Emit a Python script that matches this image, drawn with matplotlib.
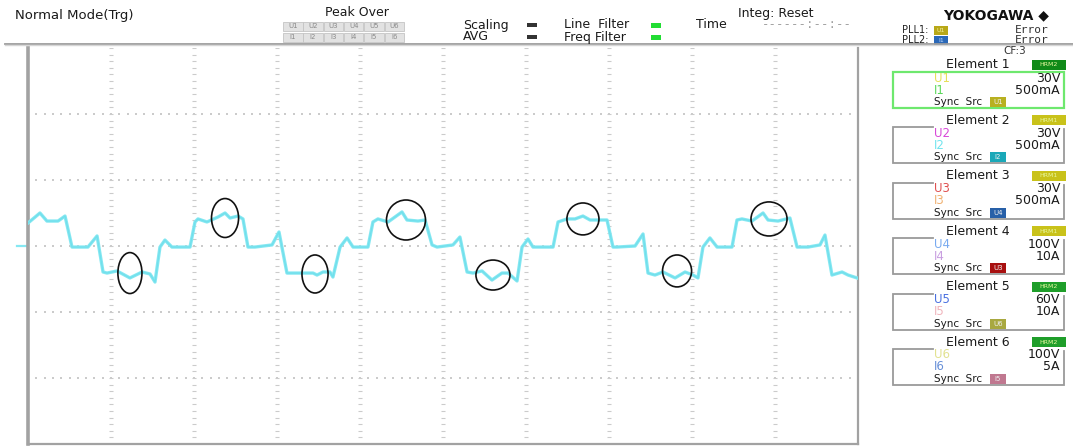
import matplotlib
matplotlib.use("Agg")
import matplotlib.pyplot as plt
from matplotlib.patches import Rectangle, Ellipse
import numpy as np

# ---- waveform of I2 (time in ms, current in A) ----
t_ms = [0.00, 0.72, 1.14, 1.81, 2.23, 2.65, 3.61, 4.16, 4.52, 4.76, 5.36, 6.14,
        6.87, 7.35, 7.65, 7.95, 8.25, 8.67, 9.76, 10.06, 10.24, 10.78, 11.45,
        11.87, 12.17, 12.65, 12.95, 13.25, 13.67, 14.70, 15.12, 15.60, 16.27,
        17.17, 17.41, 17.77, 18.19, 18.37, 18.80, 19.22, 19.58, 20.48, 20.78,
        21.08, 21.69, 22.53, 22.83, 23.49, 23.92, 24.34, 24.64, 25.60, 26.02,
        26.45, 26.81, 27.35, 27.95, 28.55, 28.92, 29.46, 29.76, 30.12, 30.42,
        31.63, 31.93, 32.47, 32.95, 33.43, 33.86, 34.34, 34.88, 35.24, 35.48,
        36.57, 37.05, 37.35, 37.77, 38.25, 38.98, 39.58, 40.06, 40.36, 40.66,
        41.08, 41.51, 42.41, 42.71, 43.01, 43.61, 44.28, 44.58, 45.18, 45.90,
        46.33, 46.99, 47.71, 48.01, 48.43, 49.04, 49.40, 49.94]
i_amp = [0.174, 0.250, 0.189, 0.189, 0.227, -0.008, -0.008, 0.076, -0.197, -0.205,
         -0.189, -0.242, -0.197, -0.212, -0.273, -0.008, 0.045, -0.008, -0.008,
         0.182, 0.205, 0.182, 0.220, 0.250, 0.212, 0.227, 0.205, -0.008, -0.008,
         0.008, 0.106, -0.205, -0.205, -0.205, -0.220, -0.197, -0.197, -0.235,
         -0.008, 0.061, -0.008, -0.008, 0.182, 0.205, 0.182, 0.258, 0.197, 0.189,
         0.197, 0.008, -0.008, 0.008, 0.068, -0.197, -0.205, -0.189, -0.258,
         -0.205, -0.205, -0.265, -0.008, 0.053, -0.008, -0.008, 0.182, 0.205,
         0.205, 0.227, 0.197, 0.197, 0.197, -0.008, -0.008, 0.000, 0.091, -0.205,
         -0.220, -0.197, -0.242, -0.197, -0.220, -0.242, -0.008, 0.061, -0.008,
         -0.008, 0.197, 0.205, 0.189, 0.250, 0.197, 0.189, 0.212, -0.008, -0.008,
         0.008, 0.083, -0.220, -0.197, -0.220, -0.242]

# hand-drawn markings around the flat-top ripples (centre t, centre I, width, height)
mark_t = [6.14, 11.87, 17.29, 22.77, 28.01, 33.43, 39.10, 44.64]
mark_i = [-0.205, 0.212, -0.212, 0.197, -0.220, 0.205, -0.189, 0.205]
mark_w = [1.45, 1.63, 1.57, 2.35, 2.05, 1.93, 1.75, 2.17]
mark_h = [0.31, 0.295, 0.288, 0.303, 0.227, 0.242, 0.242, 0.258]

t_span = [0.0, 50.0]
i_span = [-1.5, 1.5]
t_div = 10
i_div = 6

# ---- element panel ----
element_names = ["Element 1", "Element 2", "Element 3", "Element 4", "Element 5", "Element 6"]
hrm_tags = ["HRM2", "HRM1", "HRM1", "HRM1", "HRM2", "HRM2"]
u_names = ["U1", "U2", "U3", "U4", "U5", "U6"]
u_ranges = ["30V", "30V", "30V", "100V", "60V", "100V"]
i_names = ["I1", "I2", "I3", "I4", "I5", "I6"]
i_ranges = ["500mA", "500mA", "500mA", "10A", "10A", "5A"]
sync_src = ["U1", "I2", "U4", "U3", "U6", "I5"]

u_colors = ["#e6e05a", "#d848d8", "#e05050", "#78aaf0", "#4a70e0", "#e2e290"]
i_colors = ["#5ad85a", "#70e4ee", "#f0b070", "#c89ee0", "#f0b4bc", "#6890d8"]
hrm_fc = {"HRM1": "#c9c21a", "HRM2": "#1f9e2a"}
sync_fc = ["#b8b020", "#1aa8b8", "#2860a8", "#a81010", "#a8a840", "#c07890"]

W, H = 1073, 447
fig = plt.figure(figsize=(W / 100, H / 100), dpi=100)
fig.patch.set_facecolor("white")
plt.rcParams["font.family"] = ["DejaVu Sans"]

ui = fig.add_axes([0, 0, 1, 1])
ui.set_xlim(0, W)
ui.set_ylim(H, 0)
ui.axis("off")

# ---- scope area ----
L, R, T, B = 28, 858, 48, 444
ax = fig.add_axes([L / W, 1 - B / H, (R - L) / W, (B - T) / H])
ax.set_xlim(*t_span)
ax.set_ylim(*i_span)
ax.set_xticks([])
ax.set_yticks([])
ax.set_facecolor("white")
for side in ("left", "bottom", "right"):
    ax.spines[side].set_color("#a2a2a2")
ax.spines["left"].set_linewidth(2.6)
ax.spines["bottom"].set_linewidth(1.6)
ax.spines["right"].set_linewidth(1.6)
ax.spines["top"].set_visible(False)

grid_c = "#cbcbcb"
tx = np.linspace(t_span[0], t_span[1], t_div + 1)[1:-1]
iy = np.linspace(i_span[0], i_span[1], i_div + 1)[1:-1]
fine_i = np.arange(i_span[0], i_span[1] + 1e-9, (i_span[1] - i_span[0]) / (i_div * 10))
fine_t = np.arange(t_span[0], t_span[1] + 1e-9, (t_span[1] - t_span[0]) / (t_div * 10))
for x in tx:
    ax.scatter(np.full_like(fine_i, x), fine_i, marker="_", s=6, lw=0.8, color=grid_c, zorder=1)
for y in iy:
    ax.scatter(fine_t, np.full_like(fine_t, y), marker="s", s=0.9, lw=0, color=grid_c, zorder=1)

ax.plot(t_ms, i_amp, color="#86e8f2", lw=2.4, solid_joinstyle="round", zorder=3)
ax.plot(t_ms, i_amp, color="#5ed8e6", lw=1.0, alpha=0.5, zorder=3)

for tc, ic, w, h in zip(mark_t, mark_i, mark_w, mark_h):
    ax.add_patch(Ellipse((tc, ic), w, h, fill=False, ec="#111111", lw=1.2, zorder=4))

cyan_txt = "#38d2e2"
ui.text(32, 53, "I2", fontsize=5.5, color=cyan_txt, va="center")
ui.text(78, 53, "1.500 A", fontsize=5.5, color=cyan_txt, va="center", fontweight="bold")
ui.text(32, 433, "I2", fontsize=5.5, color=cyan_txt, va="center")
ui.text(70, 433, "-1.500 A", fontsize=5.5, color=cyan_txt, va="center", fontweight="bold")
ui.text(31, 441, "0.000s", fontsize=6, color="#222222", va="center")
ui.text(853, 440, "50.000ms", fontsize=6, color="#222222", va="center", ha="right")
ui.text(386, 441, "I2  9000  Sa  ed  15", fontsize=6, color="#e8e060", va="center")
ui.plot([17, 27], [246, 246], color="#86e8f2", lw=1.6)

# ---- header ----
ui.plot([5, W], [43.5, 43.5], color="#9c9c9c", lw=1.3)
ui.plot([5, W], [45.2, 45.2], color="#d6d6d6", lw=1.0)
ui.text(15, 15, "Normal Mode(Trg)", fontsize=9.5, color="#1a1a1a", va="center")
ui.text(357, 13, "Peak Over", fontsize=9, color="#1a1a1a", va="center", ha="center")
for row, names in enumerate([u_names, i_names]):
    for k, nm in enumerate(names):
        x0 = 283 + k * 20.3
        y0 = 21.5 + row * 11
        ui.add_patch(Rectangle((x0, y0), 19.5, 9.5, fc="#e2e2e2", ec="#c4c4c4", lw=0.6))
        ui.text(x0 + 9.75, y0 + 4.9, nm, fontsize=5, color="#8a8a8a", ha="center", va="center")
ui.text(463, 25, "Scaling", fontsize=9, color="#1a1a1a", va="center")
ui.text(463, 37, "AVG", fontsize=9, color="#1a1a1a", va="center")
ui.add_patch(Rectangle((527, 23), 10, 4, fc="#333333", ec="none"))
ui.add_patch(Rectangle((527, 35), 10, 4, fc="#333333", ec="none"))
ui.text(564, 25, "Line  Filter", fontsize=9, color="#1a1a1a", va="center")
ui.text(564, 37, "Freq Filter", fontsize=9, color="#1a1a1a", va="center")
ui.add_patch(Rectangle((651, 23), 10, 4.5, fc="#22dd33", ec="none"))
ui.add_patch(Rectangle((651, 35), 10, 4.5, fc="#22dd33", ec="none"))
ui.text(696, 25, "Time", fontsize=9, color="#1a1a1a", va="center")
ui.text(738, 13, "Integ: Reset", fontsize=9, color="#1a1a1a", va="center")
ui.text(762, 25, "------:--:--", fontsize=9, color="#a0a0a0", va="center",
        family="DejaVu Sans Mono")
ui.text(943, 15, "YOKOGAWA \u25c6", fontsize=10, color="#111111", va="center", fontweight="bold")
ui.text(902, 30, "PLL1:", fontsize=7, color="#222222", va="center")
ui.text(902, 40, "PLL2:", fontsize=7, color="#222222", va="center")
ui.add_patch(Rectangle((934, 25.5), 14, 9, fc="#b8a818", ec="none"))
ui.add_patch(Rectangle((934, 35.5), 14, 9, fc="#2a68b8", ec="none"))
ui.text(941, 30, "U1", fontsize=4.5, color="#f4f0a0", ha="center", va="center")
ui.text(941, 40, "I1", fontsize=4.5, color="#c0dcff", ha="center", va="center")
ui.text(1015, 30, "Error", fontsize=8, color="#333333", va="center", family="DejaVu Sans Mono")
ui.text(1015, 40, "Error", fontsize=8, color="#333333", va="center", family="DejaVu Sans Mono")
ui.text(1015, 51, "CF:3", fontsize=7.5, color="#333333", va="center", ha="center")

# ---- element boxes ----
bx0, bx1 = 893, 1064
for k in range(6):
    ty = 65 + k * 55.4
    ui.text(978, ty, element_names[k], fontsize=9, color="#1a1a1a", ha="center", va="center")
    tag = hrm_tags[k]
    fc = hrm_fc[tag] if k else "#108a18"
    ui.add_patch(Rectangle((1032, ty - 5), 34, 10, fc=fc, ec="none"))
    ui.text(1049, ty, tag, fontsize=4.5, color="#e8f8a0", ha="center", va="center")
    top, bot = ty + 7, ty + 43
    if k == 0:
        ui.add_patch(Rectangle((bx0, top), bx1 - bx0, bot - top, fill=False, ec="#6ee86e", lw=1.6))
    else:
        ui.plot([bx0 + 40, bx0, bx0, bx1, bx1], [top, top, bot, bot, top + 2],
                color="#9a9a9a", lw=1.3, solid_joinstyle="miter")
    ui.text(934, ty + 13, u_names[k], fontsize=8.5, color=u_colors[k], va="center")
    ui.text(1060, ty + 13, u_ranges[k], fontsize=9, color="#1a1a1a", va="center", ha="right")
    ui.text(934, ty + 25, i_names[k], fontsize=8.5, color=i_colors[k], va="center")
    ui.text(1060, ty + 25, i_ranges[k], fontsize=9, color="#1a1a1a", va="center", ha="right")
    ui.text(934, ty + 37, "Sync  Src", fontsize=7.5, color="#1a1a1a", va="center")
    ui.add_patch(Rectangle((990, ty + 32), 16, 10, fc=sync_fc[k], ec="none"))
    ui.text(998, ty + 37, sync_src[k], fontsize=5, color="#f0f0f0", ha="center", va="center")

fig.savefig("out.png", dpi=100, facecolor="white")
